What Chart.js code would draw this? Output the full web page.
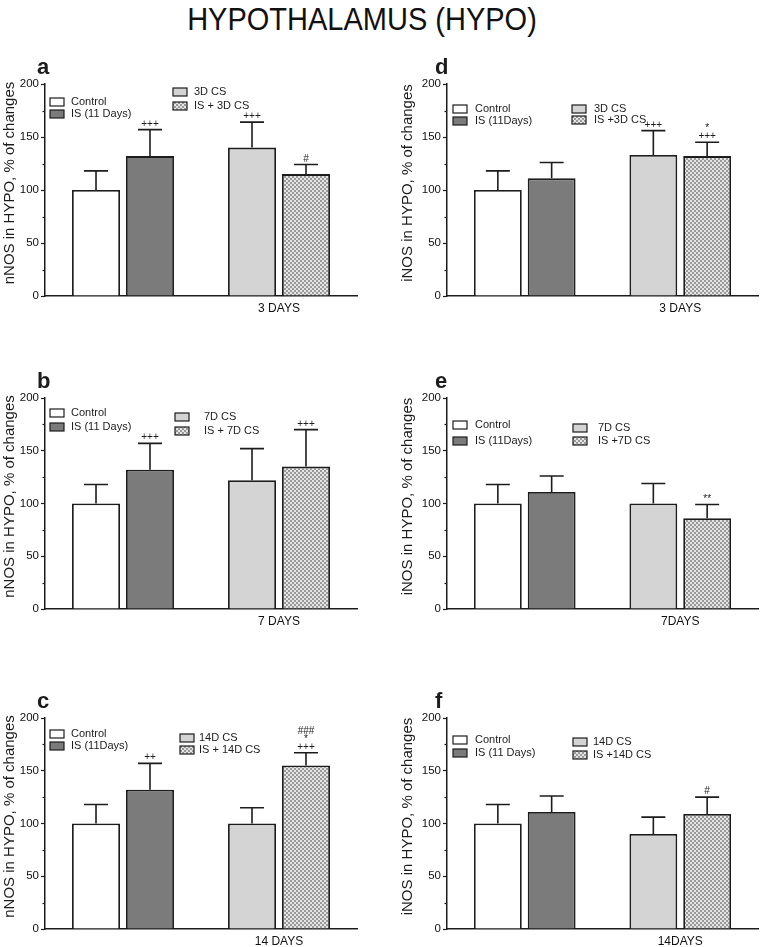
<!DOCTYPE html>
<html>
<head>
<meta charset="utf-8">
<script src="https://cdn.jsdelivr.net/npm/chart.js@4.4.1/dist/chart.umd.min.js"></script>
<style>
  body { margin: 0; background: #fff; width: 762px; height: 947px; position: relative; overflow: hidden; font-family: "Liberation Sans", Arial, sans-serif; }
  #title { position: absolute; left: 0; width: 724px; top: 5px; text-align: center; font-size: 29px; line-height: 29px; color: #111; transform: scaleY(1.08); }
  canvas { position: absolute; }
</style>
</head>
<body>
<div id="title">HYPOTHALAMUS (HYPO)</div>
<canvas id="chart-a"></canvas>
<canvas id="chart-b"></canvas>
<canvas id="chart-c"></canvas>
<canvas id="chart-d"></canvas>
<canvas id="chart-e"></canvas>
<canvas id="chart-f"></canvas>
<script>
// Data (mean and SEM, % of control)
const nnos3Mean = [100, 132, 140, 115];
const nnos3Sem = [18, 25, 24, 9];
const nnos7Mean = [100, 132, 122, 135];
const nnos7Sem = [18, 25, 30, 35];
const nnos14Mean = [100, 132, 100, 155];
const nnos14Sem = [18, 25, 15, 12];
const inos3Mean = [100, 111, 133, 132];
const inos3Sem = [18, 15, 23, 13];
const inos7Mean = [100, 111, 100, 86];
const inos7Sem = [18, 15, 19, 13];
const inos14Mean = [100, 111, 90, 109];
const inos14Sem = [18, 15, 16, 16];

// Significance marks above the error bars
const nnos3Notes = ['', '+++', '+++', '#'];
const nnos7Notes = ['', '+++', '', '+++'];
const nnos14Notes = ['', '++', '', '###\n*\n+++'];
const inos3Notes = ['', '', '+++', '*\n+++'];
const inos7Notes = ['', '', '', '**'];
const inos14Notes = ['', '', '', '#'];

// Legend names
const nnos3Names = ['Control', 'IS (11 Days)', '3D CS', 'IS + 3D CS'];
const nnos7Names = ['Control', 'IS (11 Days)', '7D CS', 'IS + 7D CS'];
const nnos14Names = ['Control', 'IS (11Days)', '14D CS', 'IS + 14D CS'];
const inos3Names = ['Control', 'IS (11Days)', '3D CS', 'IS +3D CS'];
const inos7Names = ['Control', 'IS (11Days)', '7D CS', 'IS +7D CS'];
const inos14Names = ['Control', 'IS (11 Days)', '14D CS', 'IS +14D CS'];

const yMin = 0;
const yMax = 200;
const yStep = 50;
const yMinorStep = 25;

const nnosTitle = 'nNOS in HYPO, % of changes';
const inosTitle = 'iNOS in HYPO, % of changes';

const ink = '#1c1c1c';
const FONT = '"Liberation Sans", Arial, sans-serif';

function checker() {
  const c = document.createElement('canvas');
  c.width = 4; c.height = 4;
  const g = c.getContext('2d');
  g.fillStyle = '#e4e4e4';
  g.fillRect(0, 0, 4, 4);
  g.fillStyle = '#9a9a9a';
  g.fillRect(0, 0, 2, 2);
  g.fillRect(2, 2, 2, 2);
  return g.createPattern(c, 'repeat');
}

const fills = ['#ffffff', '#7b7b7b', '#d4d4d4', checker()];

// error bars, notes, minor ticks, legend, axis title and panel letter
const extras = {
  id: 'extras',
  afterDatasetsDraw(chart, args, opts) {
    const ctx = chart.ctx;
    const y = chart.scales.y;
    const area = chart.chartArea;
    ctx.save();
    ctx.strokeStyle = ink;
    ctx.fillStyle = ink;

    ctx.lineWidth = 1.2;
    for (let v = yMinorStep; v < yMax; v += yStep) {
      const py = Math.round(y.getPixelForValue(v)) + 0.5;
      ctx.beginPath();
      ctx.moveTo(area.left - 2.5, py);
      ctx.lineTo(area.left, py);
      ctx.stroke();
    }

    chart.data.datasets.forEach((ds, i) => {
      const meta = chart.getDatasetMeta(i);
      ds.data.forEach((v, j) => {
        if (v == null) return;
        const bar = meta.data[j];
        const top = y.getPixelForValue(v + ds.sem);
        ctx.lineWidth = 1.6;
        ctx.beginPath();
        ctx.moveTo(bar.x, bar.y);
        ctx.lineTo(bar.x, top);
        ctx.moveTo(bar.x - 12, top);
        ctx.lineTo(bar.x + 12, top);
        ctx.stroke();
        if (ds.note) {
          const lines = ds.note.split('\n');
          ctx.font = '10px ' + FONT;
          ctx.textAlign = 'center';
          ctx.textBaseline = 'alphabetic';
          lines.forEach((t, k) => {
            ctx.fillText(t, bar.x, top - 3 - (lines.length - 1 - k) * 8);
          });
        }
      });
    });

    // legend
    ctx.font = '11px ' + FONT;
    ctx.textAlign = 'left';
    ctx.textBaseline = 'middle';
    opts.legend.forEach((p, i) => {
      const ds = chart.data.datasets[i];
      const bx = area.left + p[0];
      const by = area.top + p[1];
      ctx.fillStyle = ds.backgroundColor;
      ctx.fillRect(bx, by - 4, 14, 8);
      ctx.lineWidth = 1.2;
      ctx.strokeRect(bx, by - 4, 14, 8);
      ctx.fillStyle = ink;
      ctx.fillText(ds.label, bx + p[2], by);
    });

    // y axis title
    ctx.save();
    ctx.translate(area.left + opts.titleDx, (area.top + area.bottom) / 2 - 7);
    ctx.rotate(-Math.PI / 2);
    ctx.font = '15px ' + FONT;
    ctx.textAlign = 'center';
    ctx.textBaseline = 'middle';
    ctx.fillText(opts.title, 0, 0);
    ctx.restore();

    ctx.font = 'bold 22px ' + FONT;
    ctx.textAlign = 'left';
    ctx.textBaseline = 'alphabetic';
    ctx.fillText(opts.letter, area.left + opts.letterDx, area.top - 10);
    ctx.restore();
  },
};

const rows = [
  { top: 84, bottom: 296 },
  { top: 398, bottom: 609 },
  { top: 718, bottom: 929 },
];
const cols = [
  { left: 0, axis: 45, width: 358, letterDx: -8, titleDx: -35 },
  { left: 400, axis: 47, width: 359, letterDx: -12, titleDx: -39 },
];

const panels = [
  { id: 'a', col: 0, row: 0, mean: nnos3Mean, sem: nnos3Sem, notes: nnos3Notes, names: nnos3Names, day: '3 DAYS', title: nnosTitle,
    legend: [[5, 18, 21], [5, 30, 21], [128, 8, 21], [128, 22, 21]] },
  { id: 'b', col: 0, row: 1, mean: nnos7Mean, sem: nnos7Sem, notes: nnos7Notes, names: nnos7Names, day: '7 DAYS', title: nnosTitle,
    legend: [[5, 15, 21], [5, 29, 21], [130, 19, 29], [130, 33, 29]] },
  { id: 'c', col: 0, row: 2, mean: nnos14Mean, sem: nnos14Sem, notes: nnos14Notes, names: nnos14Names, day: '14 DAYS', title: nnosTitle,
    legend: [[5, 16, 21], [5, 28, 21], [135, 20, 19], [135, 32, 19]] },
  { id: 'd', col: 1, row: 0, mean: inos3Mean, sem: inos3Sem, notes: inos3Notes, names: inos3Names, day: '3 DAYS', title: inosTitle,
    legend: [[6, 25, 22], [6, 37, 22], [125, 25, 22], [125, 36, 22]] },
  { id: 'e', col: 1, row: 1, mean: inos7Mean, sem: inos7Sem, notes: inos7Notes, names: inos7Names, day: '7DAYS', title: inosTitle,
    legend: [[6, 27, 22], [6, 43, 22], [126, 30, 25], [126, 43, 25]] },
  { id: 'f', col: 1, row: 2, mean: inos14Mean, sem: inos14Sem, notes: inos14Notes, names: inos14Names, day: '14DAYS', title: inosTitle,
    legend: [[6, 22, 22], [6, 35, 22], [126, 24, 20], [126, 37, 20]] },
];

panels.forEach(p => {
  const col = cols[p.col];
  const row = rows[p.row];
  const canvas = document.getElementById('chart-' + p.id);
  const top = row.top - 28;
  canvas.width = col.width;
  canvas.height = row.bottom + 24 - top;
  canvas.style.left = col.left + 'px';
  canvas.style.top = top + 'px';

  // control and IS bars sit under the unlabeled category, the CS bars under the day label
  const datasets = p.mean.map((m, i) => ({
    label: p.names[i],
    data: i < 2 ? [m, null] : [null, m],
    sem: p.sem[i],
    note: p.notes[i],
    backgroundColor: fills[i],
    borderColor: ink,
    borderWidth: 1.8,
    skipNull: true,
    categoryPercentage: 0.692,
    barPercentage: 0.889,
  }));

  new Chart(canvas, {
    type: 'bar',
    data: { labels: ['', p.day], datasets },
    plugins: [extras],
    options: {
      responsive: false,
      animation: false,
      layout: { padding: { top: 28, right: 1, bottom: 0, left: 0 } },
      plugins: {
        legend: { display: false },
        tooltip: { enabled: false },
        extras: { legend: p.legend, letter: p.id, letterDx: col.letterDx, title: p.title, titleDx: col.titleDx },
      },
      scales: {
        x: {
          grid: { display: false, drawTicks: false },
          border: { display: true, color: ink, width: 1.5 },
          ticks: { color: '#111', font: { family: FONT, size: 12 }, padding: 5 },
          afterFit(scale) { scale.height = 24; },
        },
        y: {
          min: yMin,
          max: yMax,
          ticks: { stepSize: yStep, color: '#111', font: { family: FONT, size: 11.5 }, padding: 2 },
          grid: { drawOnChartArea: false, tickLength: 4, tickColor: ink, tickWidth: 1.2 },
          border: { display: true, color: ink, width: 1.5 },
          afterFit(scale) { scale.width = col.axis; },
        },
      },
    },
  });
});
</script>
</body>
</html>
